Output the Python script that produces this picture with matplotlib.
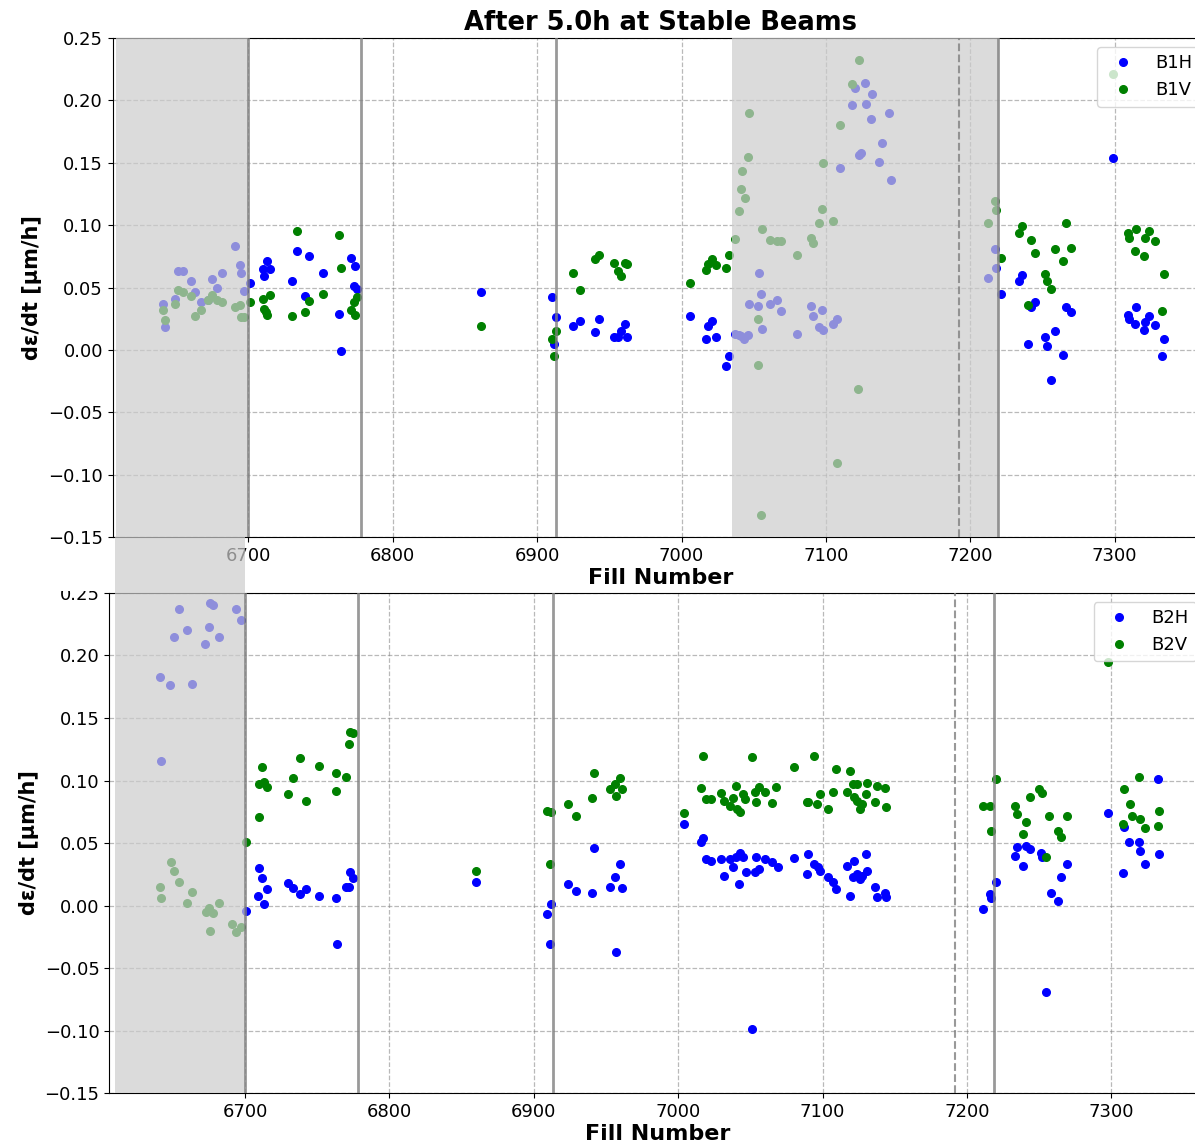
import matplotlib
matplotlib.use('Agg')
import matplotlib.pyplot as plt
from matplotlib.patches import Rectangle

# ---- beam 1 (top panel) ----
b1h_fill = [6641, 6642, 6649, 6651, 6655, 6660, 6663, 6667, 6672, 6675, 6678, 6682, 6691, 6694, 6695, 6697,
            6701, 6710, 6711, 6713, 6715, 6730, 6734, 6739, 6742, 6752, 6763, 6764, 6771, 6774, 6773, 6775,
            6861, 6910, 6913, 6912, 6925, 6930, 6940, 6943, 6953, 6956, 6958, 6961, 6962,
            7006, 7018, 7021, 7017, 7024, 7033, 7031,
            7037, 7040, 7041, 7043, 7046, 7047, 7053, 7054, 7055, 7056, 7061, 7066, 7069, 7080, 7090, 7091,
            7095, 7097, 7098, 7105, 7108, 7110, 7118, 7120, 7123, 7124, 7127, 7128, 7131, 7132, 7137, 7139,
            7144, 7145, 7212, 7217, 7218, 7221,
            7234, 7236, 7240, 7242, 7245, 7252, 7253, 7256, 7259, 7264, 7266, 7270,
            7299, 7309, 7310, 7314, 7315, 7320, 7321, 7324, 7328, 7333, 7334]
b1h = [0.037, 0.018, 0.041, 0.063, 0.063, 0.055, 0.046, 0.038, 0.040, 0.057, 0.050, 0.062, 0.083, 0.068, 0.062, 0.047,
       0.054, 0.065, 0.059, 0.071, 0.065, 0.055, 0.079, 0.043, 0.075, 0.062, 0.029, -0.001, 0.074, 0.067, 0.051, 0.049,
       0.046, 0.042, 0.026, 0.005, 0.019, 0.023, 0.014, 0.025, 0.010, 0.010, 0.015, 0.021, 0.010,
       0.027, 0.019, 0.023, 0.009, 0.010, -0.005, -0.013,
       0.013, 0.012, 0.011, 0.009, 0.012, 0.037, 0.035, 0.062, 0.045, 0.017, 0.037, 0.040, 0.031, 0.013, 0.035, 0.027,
       0.018, 0.032, 0.016, 0.021, 0.025, 0.146, 0.196, 0.210, 0.156, 0.158, 0.214, 0.197, 0.185, 0.205, 0.151, 0.166,
       0.190, 0.136, 0.058, 0.081, 0.066, 0.045,
       0.055, 0.060, 0.005, 0.034, 0.038, 0.010, 0.003, -0.024, 0.015, -0.004, 0.034, 0.030,
       0.154, 0.028, 0.025, 0.021, 0.034, 0.016, 0.022, 0.027, 0.020, -0.005, 0.009]

b1v_fill = [6641, 6642, 6649, 6651, 6655, 6660, 6663, 6667, 6672, 6675, 6678, 6682, 6691, 6694, 6695, 6697,
            6701, 6710, 6711, 6712, 6713, 6715, 6730, 6734, 6739, 6742, 6752, 6763, 6764, 6771, 6774, 6773, 6775,
            6861, 6910, 6913, 6912, 6925, 6930, 6940, 6943, 6953, 6956, 6958, 6961, 6962,
            7006, 7017, 7018, 7021, 7024, 7031, 7033,
            7037, 7040, 7041, 7042, 7044, 7046, 7047, 7053, 7053, 7055, 7056, 7061, 7066, 7069, 7080, 7090,
            7091, 7095, 7097, 7098, 7105, 7108, 7110, 7118, 7122, 7123, 7212, 7217, 7218, 7221,
            7234, 7236, 7240, 7242, 7245, 7252, 7253, 7256, 7259, 7264, 7266, 7270,
            7299, 7309, 7310, 7314, 7315, 7320, 7321, 7324, 7328, 7333, 7334]
b1v = [0.032, 0.024, 0.037, 0.048, 0.046, 0.043, 0.027, 0.032, 0.040, 0.044, 0.040, 0.038, 0.034, 0.036, 0.026, 0.026,
       0.038, 0.041, 0.033, 0.030, 0.028, 0.044, 0.027, 0.095, 0.030, 0.039, 0.045, 0.092, 0.066, 0.032, 0.028, 0.038, 0.042,
       0.019, 0.009, 0.015, -0.005, 0.062, 0.048, 0.073, 0.076, 0.070, 0.063, 0.059, 0.070, 0.069,
       0.054, 0.064, 0.069, 0.073, 0.068, 0.066, 0.076,
       0.089, 0.111, 0.129, 0.143, 0.122, 0.155, 0.190, 0.025, -0.012, -0.132, 0.097, 0.088, 0.087, 0.087, 0.076, 0.090,
       0.086, 0.102, 0.113, 0.150, 0.103, -0.091, 0.180, 0.213, -0.031, 0.232, 0.102, 0.119, 0.112, 0.074,
       0.094, 0.099, 0.036, 0.088, 0.078, 0.061, 0.055, 0.049, 0.081, 0.071, 0.102, 0.082,
       0.221, 0.094, 0.090, 0.079, 0.097, 0.075, 0.090, 0.095, 0.087, 0.031, 0.061]

# ---- beam 2 (bottom panel) ----
b2h_fill = [6641, 6642, 6648, 6651, 6654, 6660, 6663, 6672, 6675, 6676, 6678, 6682, 6694, 6697,
            6701, 6710, 6712, 6715, 6709, 6713, 6730, 6733, 6738, 6742, 6751, 6763, 6764, 6770, 6772, 6773, 6775,
            6860, 6909, 6912, 6911, 6924, 6929, 6940, 6942, 6953, 6956, 6960, 6961, 6957,
            7004, 7016, 7017, 7019, 7023, 7030, 7032, 7036, 7038, 7040, 7042, 7043, 7045, 7047, 7051, 7053,
            7054, 7056, 7060, 7065, 7069, 7080, 7089, 7090, 7094, 7097, 7098, 7104, 7107, 7109, 7117, 7119,
            7121, 7122, 7124, 7126, 7127, 7130, 7131, 7136, 7138, 7143, 7144,
            7220, 7216, 7217, 7211, 7235, 7233, 7241, 7244, 7239, 7251, 7252, 7269, 7265, 7258, 7263, 7255,
            7298, 7309, 7332, 7312, 7319, 7320, 7333, 7323, 7308]
b2h = [0.183, 0.116, 0.176, 0.215, 0.237, 0.220, 0.177, 0.209, 0.223, 0.242, 0.240, 0.215, 0.237, 0.228,
       -0.004, 0.030, 0.022, 0.013, 0.008, 0.001, 0.018, 0.014, 0.009, 0.013, 0.008, 0.006, -0.031, 0.015, 0.015, 0.027, 0.022,
       0.019, -0.007, 0.001, -0.031, 0.017, 0.012, 0.010, 0.046, 0.015, 0.023, 0.033, 0.014, -0.037,
       0.065, 0.051, 0.054, 0.037, 0.036, 0.037, 0.024, 0.037, 0.031, 0.039, 0.017, 0.042, 0.039, 0.027, -0.099, 0.027,
       0.039, 0.029, 0.037, 0.035, 0.031, 0.038, 0.025, 0.041, 0.033, 0.031, 0.028, 0.023, 0.019, 0.013, 0.032, 0.008,
       0.023, 0.036, 0.025, 0.021, 0.024, 0.041, 0.028, 0.015, 0.007, 0.010, 0.007,
       0.019, 0.009, 0.006, -0.003, 0.047, 0.040, 0.048, 0.045, 0.032, 0.042, 0.039, 0.033, 0.023, 0.010, 0.004, -0.069,
       0.074, 0.063, 0.101, 0.051, 0.051, 0.044, 0.041, 0.033, 0.026]

b2v_fill = [6649, 6651, 6654, 6641, 6642, 6663, 6660, 6682, 6673, 6675, 6678, 6676, 6691, 6694, 6697,
            6701, 6710, 6712, 6710, 6713, 6715, 6730, 6733, 6738, 6742, 6751, 6763, 6763, 6770, 6772, 6773, 6775,
            6860, 6909, 6912, 6911, 6924, 6929, 6940, 6942, 6953, 6956, 6960, 6961, 6957,
            7004, 7017, 7016, 7019, 7023, 7030, 7032, 7036, 7038, 7040, 7041, 7043, 7045, 7046, 7051, 7053,
            7054, 7056, 7060, 7065, 7068, 7080, 7089, 7090, 7094, 7096, 7098, 7104, 7107, 7109, 7117, 7119,
            7121, 7122, 7124, 7124, 7126, 7127, 7130, 7131, 7136, 7138, 7143, 7144,
            7220, 7211, 7216, 7217, 7233, 7235, 7241, 7239, 7244, 7250, 7252, 7257, 7263, 7265, 7269, 7255,
            7298, 7309, 7319, 7313, 7314, 7320, 7308, 7323, 7333, 7332]
b2v = [0.035, 0.028, 0.019, 0.015, 0.006, 0.011, 0.002, 0.002, -0.005, -0.002, -0.006, -0.020, -0.015, -0.021, -0.017,
       0.051, 0.071, 0.111, 0.097, 0.099, 0.095, 0.089, 0.102, 0.118, 0.084, 0.112, 0.106, 0.092, 0.103, 0.129, 0.139, 0.138,
       0.028, 0.076, 0.075, 0.033, 0.081, 0.072, 0.086, 0.106, 0.093, 0.097, 0.102, 0.093, 0.088,
       0.074, 0.120, 0.094, 0.085, 0.085, 0.090, 0.084, 0.080, 0.086, 0.096, 0.077, 0.075, 0.089, 0.085, 0.119, 0.091,
       0.083, 0.095, 0.091, 0.082, 0.095, 0.111, 0.083, 0.083, 0.120, 0.081, 0.089, 0.077, 0.091, 0.109, 0.091, 0.108,
       0.097, 0.087, 0.097, 0.084, 0.077, 0.081, 0.089, 0.098, 0.083, 0.096, 0.094, 0.079,
       0.101, 0.080, 0.080, 0.060, 0.080, 0.073, 0.067, 0.057, 0.087, 0.093, 0.090, 0.072, 0.060, 0.055, 0.072, 0.039,
       0.195, 0.093, 0.103, 0.081, 0.072, 0.069, 0.065, 0.062, 0.076, 0.064]

# shaded periods and marker lines
top_spans = [(6608, 6700), (7035, 7220)]
bottom_spans = [(6610, 6700)]
solid_lines = [6700, 6778, 6913, 7219]
dashed_lines = [7192]

yticks = [-0.15, -0.10, -0.05, 0.00, 0.05, 0.10, 0.15, 0.20, 0.25]
xticks = [6700, 6800, 6900, 7000, 7100, 7200, 7300]

span_color = '#cccccc'


def draw_panel(ax, xh, yh, xv, yv, names, spans):
    ax.plot(xh, yh, 'o', color='blue', ms=5.5, label=names[0], zorder=2)
    ax.plot(xv, yv, 'o', color='green', ms=5.5, label=names[1], zorder=2)
    for a, b in spans:
        ax.axvspan(a, b, color=span_color, alpha=0.7, lw=0, zorder=3)
    for x in solid_lines:
        ax.axvline(x, color='gray', lw=2, alpha=0.8, zorder=4)
    for x in dashed_lines:
        ax.axvline(x, color='gray', lw=1.5, ls='--', alpha=0.8, zorder=4)
    ax.set_xlim(6606, 7365)
    ax.set_ylim(-0.15, 0.25)
    ax.set_yticks(yticks)
    ax.set_xticks(xticks)
    ax.tick_params(labelsize=13)
    ax.grid(True, ls='--', color='gray', alpha=0.55, lw=0.9)
    ax.set_axisbelow(True)
    ax.set_xlabel('Fill Number', fontsize=16, fontweight='bold', labelpad=2)
    ax.set_ylabel('dε/dt [μm/h]', fontsize=15, fontweight='bold')
    leg = ax.legend(loc='upper right', fontsize=13)
    leg.set_zorder(10)


fig = plt.figure(figsize=(11.95, 11.45), dpi=100)
ax1 = fig.add_axes([0.0943, 0.531, 0.917, 0.4358])
ax2 = fig.add_axes([0.0915, 0.0454, 0.917, 0.4367])

draw_panel(ax1, b1h_fill, b1h, b1v_fill, b1v, ['B1H', 'B1V'], top_spans)
draw_panel(ax2, b2h_fill, b2h, b2v_fill, b2v, ['B2H', 'B2V'], bottom_spans)
ax1.set_title('After 5.0h at Stable Beams', fontsize=18.5, fontweight='bold', pad=6)

# the lower image overlaps the upper one a little
fig.patches.append(Rectangle((0.028, 0.484), 0.062, 0.026, transform=fig.transFigure,
                             facecolor='white', edgecolor='none', zorder=5))
fig.patches.append(Rectangle((115 / 1195, 0.4821), 130 / 1195, 0.0489, transform=fig.transFigure,
                             facecolor=span_color, alpha=0.7, edgecolor='none', zorder=5))

fig.savefig('out.png', dpi=100)
plt.close(fig)
